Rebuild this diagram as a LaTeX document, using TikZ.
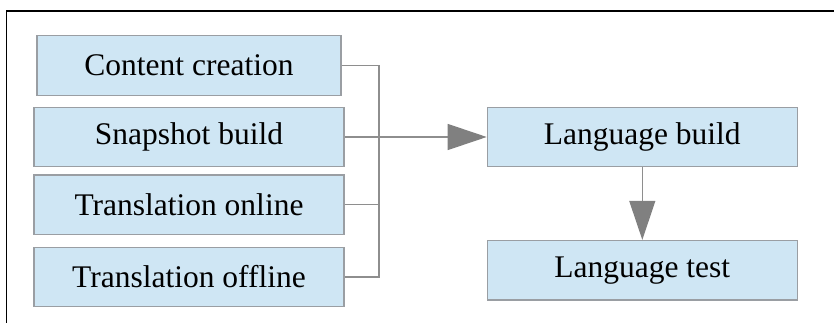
\documentclass[tikz,border=0pt]{standalone}
\usepackage{fontspec}
\setmainfont{Liberation Serif}
\usetikzlibrary{arrows.meta}
\definecolor{boxfill}{HTML}{CFE6F4}
\definecolor{boxline}{HTML}{9A9EA3}
\definecolor{wire}{HTML}{8E8E8E}
\definecolor{tipgray}{HTML}{808080}
\tikzset{
  stage/.style={draw=boxline,fill=boxfill,line width=1.2pt,minimum width=310pt,minimum height=59.5pt,inner sep=0pt},
  wire/.style={draw=wire,line width=1.2pt},
  flow/.style={wire,-{Triangle[length=39pt,width=26pt,color=tipgray]}}
}
\begin{document}
\begin{tikzpicture}[x=1pt,y=-1pt,font=\fontsize{31.5}{38}\selectfont]
            \useasboundingbox (0,0) rectangle (834,323);
            \draw [line width=1.6pt] (6.5,323)--(6.5,11)--(834,11);
            \node [stage,minimum width=304pt] (cc) at (189,65.5) {Content creation};
            \node [stage] (sb) at (189,137) {Snapshot build};
            \node [stage] (on) at (189,204.7) {Translation online};
            \node [stage] (off) at (189,277) {Translation offline};
            \node [stage] (lb) at (642.3,137) {Language build};
            \node [stage] (lt) at (642.3,270.2) {Language test};
            \coordinate (j) at (379,137);
            \draw [wire] (cc.east) -| (j);
            \draw [wire] (off.east) -| (j);
            \draw [wire] (on.east) -- (on.east -| j);
            \draw [wire] (sb.east) -- (j);
            \draw [flow] (j) -- (lb.west);
            \draw [flow] (lb.south) -- (lt.north);
\end{tikzpicture}
\end{document}
